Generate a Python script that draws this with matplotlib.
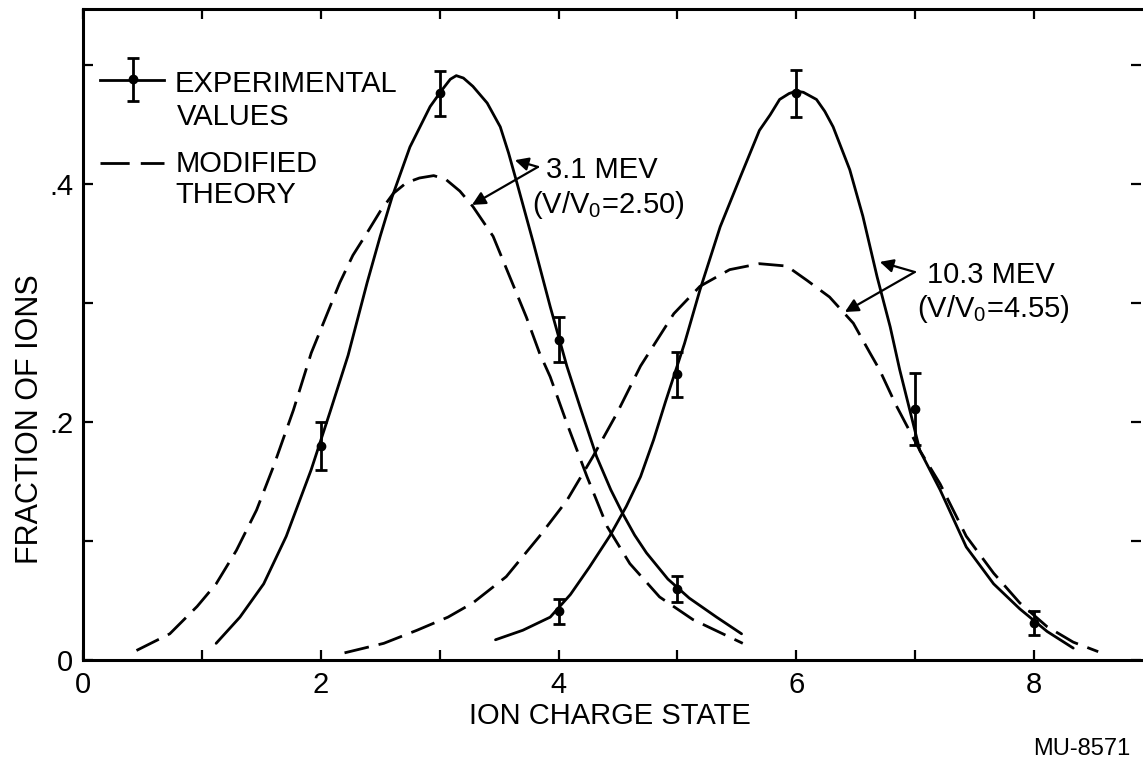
import matplotlib
matplotlib.use("Agg")
import matplotlib.pyplot as plt

plt.rcParams['font.family'] = ['Liberation Sans', 'DejaVu Sans']
plt.rcParams['mathtext.fontset'] = 'custom'
plt.rcParams['mathtext.rm'] = 'Liberation Sans'
plt.rcParams['mathtext.default'] = 'regular'

# ---------------- data ----------------
# experimental points, 3.1 MeV
exp31_x = [2, 3, 4, 5]
exp31_y = [0.180, 0.476, 0.269, 0.060]
exp31_err = [0.020, 0.019, 0.019, 0.011]
# experimental points, 10.3 MeV
exp103_x = [4, 5, 6, 7, 8]
exp103_y = [0.041, 0.240, 0.476, 0.211, 0.031]
exp103_err = [0.0105, 0.019, 0.020, 0.030, 0.010]

# hand-drawn curve through experiment, 3.1 MeV
solid31_x = [1.12, 1.32, 1.52, 1.71, 1.92, 2.08, 2.23, 2.39, 2.50, 2.60, 2.75, 2.92, 3.02, 3.09, 3.14,
             3.20, 3.28, 3.40, 3.51, 3.58, 3.65, 3.79, 3.93, 4.07, 4.18, 4.32, 4.44, 4.54, 4.64, 4.74,
             4.92, 5.10, 5.33, 5.54]
solid31_y = [0.014, 0.036, 0.064, 0.104, 0.160, 0.209, 0.256, 0.317, 0.356, 0.389, 0.431, 0.465, 0.479, 0.488, 0.491,
             0.489, 0.482, 0.468, 0.448, 0.426, 0.401, 0.350, 0.297, 0.247, 0.213, 0.171, 0.143, 0.123, 0.105, 0.090,
             0.068, 0.052, 0.036, 0.022]
# modified theory, 3.1 MeV
dash31_x = [0.45, 0.73, 0.96, 1.12, 1.29, 1.46, 1.60, 1.77, 1.92, 2.16, 2.27, 2.39, 2.50, 2.61, 2.72, 2.83, 2.95,
            3.05, 3.17, 3.28, 3.45, 3.59, 3.73, 3.84, 3.93, 4.07, 4.24, 4.41, 4.60, 4.85, 5.13, 5.55]
dash31_y = [0.008, 0.022, 0.045, 0.064, 0.092, 0.126, 0.162, 0.210, 0.258, 0.317, 0.340, 0.359, 0.377, 0.392, 0.401, 0.405, 0.407,
            0.404, 0.394, 0.381, 0.356, 0.322, 0.288, 0.258, 0.238, 0.199, 0.154, 0.112, 0.081, 0.053, 0.034, 0.014]

# hand-drawn curve through experiment, 10.3 MeV
solid103_x = [3.47, 3.70, 3.93, 4.10, 4.26, 4.43, 4.57, 4.69, 4.80, 4.90, 5.06, 5.19, 5.36, 5.53,
              5.69, 5.78, 5.86, 5.94, 6.00, 6.06, 6.17, 6.24, 6.31, 6.45, 6.56, 6.68, 6.79, 6.87, 7.04, 7.21, 7.43,
              7.66, 7.88, 8.11, 8.33]
solid103_y = [0.017, 0.025, 0.036, 0.055, 0.078, 0.104, 0.129, 0.154, 0.185, 0.217, 0.266, 0.311, 0.364, 0.406,
              0.445, 0.458, 0.471, 0.476, 0.478, 0.477, 0.471, 0.461, 0.448, 0.412, 0.373, 0.322, 0.280, 0.244, 0.176, 0.143, 0.095,
              0.064, 0.043, 0.024, 0.010]
# modified theory, 10.3 MeV
dash103_x = [2.20, 2.53, 2.81, 3.07, 3.28, 3.56, 3.84, 4.07, 4.29, 4.49, 4.69, 4.97, 5.19, 5.44,
             5.69, 5.92, 6.09, 6.28, 6.48, 6.62, 6.70, 6.84, 7.04, 7.21, 7.43, 7.66, 7.88, 8.11,
             8.33, 8.54]
dash103_y = [0.006, 0.014, 0.025, 0.036, 0.048, 0.070, 0.104, 0.134, 0.171, 0.207, 0.247, 0.291, 0.314, 0.328,
             0.333, 0.331, 0.319, 0.305, 0.283, 0.258, 0.244, 0.214, 0.176, 0.148, 0.104, 0.073, 0.048, 0.028,
             0.015, 0.007]

x_ticks = [0, 1, 2, 3, 4, 5, 6, 7, 8]
x_ticklabels = ['0', '', '2', '', '4', '', '6', '', '8']
y_ticks = [0, 0.1, 0.2, 0.3, 0.4, 0.5]
y_ticklabels = ['0', '', '.2', '', '.4', '']

# ---------------- figure ----------------
W, H = 1143, 761
fig = plt.figure(figsize=(W / 100, H / 100), dpi=100)
ax = fig.add_axes([83 / W, (H - 660) / H, (1141 - 83) / W, (660 - 9) / H])
ax.set_xlim(0, 8.9)
ax.set_ylim(0, 0.547)

LW = 2.0
dash = (0, (9, 3.6))
ax.plot(solid31_x, solid31_y, color='black', lw=LW, solid_capstyle='round', solid_joinstyle='round')
ax.plot(dash31_x, dash31_y, color='black', lw=LW, linestyle=dash)
ax.plot(solid103_x, solid103_y, color='black', lw=LW, solid_capstyle='round', solid_joinstyle='round')
ax.plot(dash103_x, dash103_y, color='black', lw=LW, linestyle=dash)

ek = dict(fmt='o', color='black', ms=6, elinewidth=2.0, capsize=4.5, capthick=2.0)
ax.errorbar(exp31_x, exp31_y, yerr=exp31_err, **ek)
ax.errorbar(exp103_x, exp103_y, yerr=exp103_err, **ek)

# ---------------- legend (drawn by hand, as in original) ----------------
ax.plot([0.143, 0.682], [0.487, 0.487], color='black', lw=LW)
ax.errorbar([0.42], [0.488], yerr=[0.018], **ek)
ax.plot([0.143, 0.682], [0.4176, 0.4176], color='black', lw=LW, linestyle=(0, (10.5, 4)))
fs = 21
ax.text(0.774, 0.4773, 'EXPERIMENTAL', fontsize=fs, va='baseline', ha='left')
ax.text(0.79, 0.4496, 'VALUES', fontsize=fs, va='baseline', ha='left')
ax.text(0.78, 0.410, 'MODIFIED', fontsize=fs, va='baseline', ha='left')
ax.text(0.78, 0.384, 'THEORY', fontsize=fs, va='baseline', ha='left')

# ---------------- annotations ----------------
ap = dict(arrowstyle='-|>', color='black', lw=1.6, mutation_scale=20, shrinkA=0, shrinkB=0)
ax.text(3.894, 0.4048, '3.1 MEV', fontsize=fs, va='baseline', ha='left')
ax.text(3.774, 0.3756, '(V/V$_{0}$=2.50)', fontsize=fs, va='baseline', ha='left')
ax.annotate('', xy=(3.633, 0.420), xytext=(3.827, 0.4143), arrowprops=ap)
ax.annotate('', xy=(3.272, 0.3824), xytext=(3.827, 0.4143), arrowprops=ap)

ax.text(7.096, 0.3165, '10.3 MEV', fontsize=fs, va='baseline', ha='left')
ax.text(7.012, 0.2885, '(V/V$_{0}$=4.55)', fontsize=fs, va='baseline', ha='left')
ax.annotate('', xy=(6.703, 0.3345), xytext=(6.997, 0.326), arrowprops=ap)
ax.annotate('', xy=(6.409, 0.2924), xytext=(6.997, 0.326), arrowprops=ap)

# ---------------- axes styling ----------------
for s in ['left', 'bottom', 'top']:
    ax.spines[s].set_linewidth(2.2)
ax.spines['right'].set_visible(False)

ax.set_xticks(x_ticks)
ax.set_xticklabels(x_ticklabels)
ax.set_yticks(y_ticks)
ax.set_yticklabels(y_ticklabels)
ax.tick_params(axis='both', direction='in', length=7, width=1.6, labelsize=21,
               top=True, right=True)
ax.tick_params(axis='x', pad=8)
ax.tick_params(axis='y', pad=7)

ax.set_xlabel('ION CHARGE STATE', fontsize=21)
ax.xaxis.set_label_coords((610 - 83) / (1141 - 83), (660 - 716) / (660 - 9))
ax.xaxis.label.set_va('center')
ax.set_ylabel('FRACTION OF IONS', fontsize=22)
ax.yaxis.set_label_coords((30 - 83) / (1141 - 83), (660 - 419) / (660 - 9))
ax.yaxis.label.set_va('center')

fig.text(1130 / W, (H - 755) / H, 'MU-8571', fontsize=17, ha='right', va='baseline')

fig.savefig('out.png', dpi=100)
